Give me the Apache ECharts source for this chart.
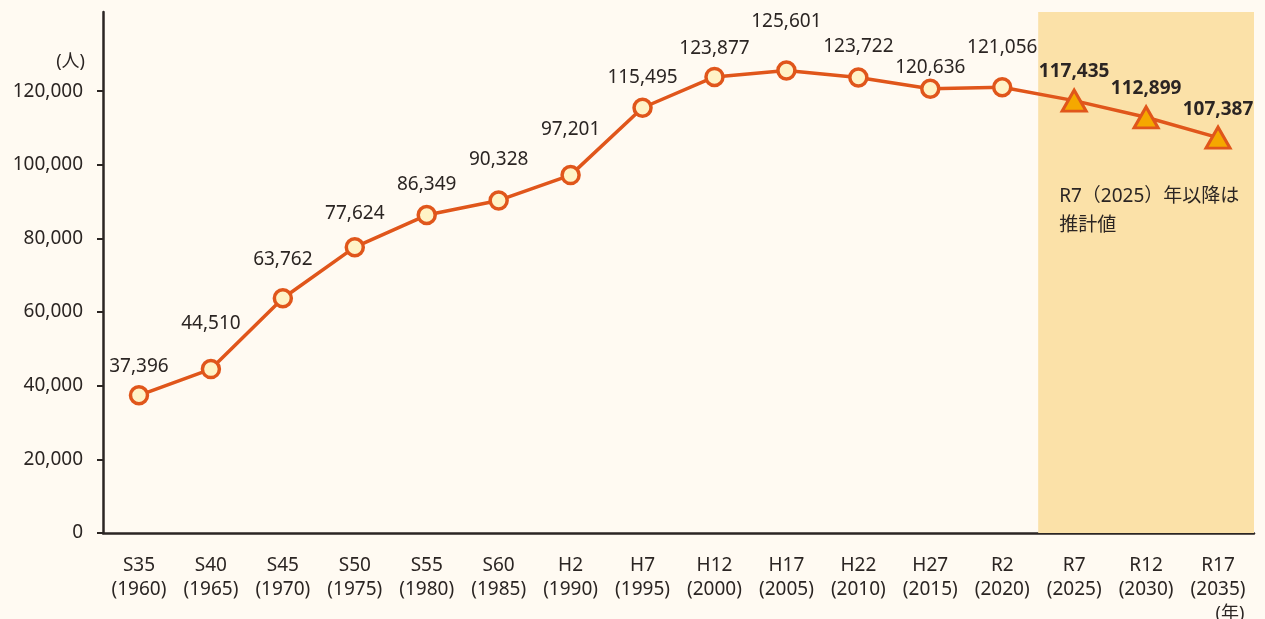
<html>
<head>
    <script src="https://cdn.jsdelivr.net/npm/echarts@6.0.0/dist/echarts.min.js"></script>
    <style>
        body { margin: 0; background: #fffaf2; }
        #chart { width: 1265px; height: 619px; }
    </style>
</head>
<body>
    <div id="chart"></div>
    <script>
        // 和暦と西暦
        const eras = ['S35', 'S40', 'S45', 'S50', 'S55', 'S60', 'H2', 'H7', 'H12', 'H17', 'H22', 'H27', 'R2', 'R7', 'R12', 'R17'];
        const years = [1960, 1965, 1970, 1975, 1980, 1985, 1990, 1995, 2000, 2005, 2010, 2015, 2020, 2025, 2030, 2035];
        // 人口（人）
        const population = [37396, 44510, 63762, 77624, 86349, 90328, 97201, 115495, 123877, 125601, 123722, 120636, 121056, 117435, 112899, 107387];
        const firstEstimate = 13; // R7以降は推計値
        const yTicks = [0, 20000, 40000, 60000, 80000, 100000, 120000];

        const orange = '#e0561b';
        const text = '#2b2523';
        const font = "'Noto Sans', 'Noto Sans CJK JP', sans-serif";

        // label distance above each point (px), to avoid overlaps like the original
        const labelLift = [9, 26, 19, 14, 11, 21, 26, 10, 9, 29, 11, 1, 20, 8, 7, 7];

        const seriesData = population.map((v, i) => {
            const est = i >= firstEstimate;
            return {
                value: v,
                symbol: est ? 'triangle' : 'circle',
                symbolSize: est ? [24, 21] : 17,
                itemStyle: est ? { color: '#f5a800', borderColor: orange, borderWidth: 3 } : undefined,
                label: { distance: labelLift[i], fontWeight: est ? 'bold' : 'normal' }
            };
        });

        const chart = echarts.init(document.getElementById('chart'));
        chart.setOption({
            backgroundColor: '#fffaf2',
            animation: false,
            grid: { left: 103, right: 11, top: 12, bottom: 86, outerBoundsMode: 'none' },
            xAxis: [{
                type: 'category',
                data: eras,
                boundaryGap: true,
                axisLine: { lineStyle: { color: text, width: 2.5 } },
                axisTick: { length: 7, lineStyle: { color: text, width: 2 } },
                axisLabel: {
                    color: text, fontSize: 19, fontFamily: font, margin: 21, lineHeight: 24,
                    formatter: (v, i) => v + '\n(' + years[i] + ')'
                },
                name: '(年)',
                nameLocation: 'end',
                nameGap: -24,
                nameTextStyle: { color: text, fontSize: 18, fontFamily: font, align: 'center', verticalAlign: 'top', padding: [72, 0, 0, 0] }
            }, {
                type: 'value', min: 0, max: eras.length, show: false
            }],
            yAxis: {
                type: 'value',
                min: 0,
                max: 141500,
                interval: 20000,
                splitLine: { show: false },
                axisLine: { show: true, lineStyle: { color: text, width: 2.5 } },
                axisTick: { show: true, length: 6, customValues: yTicks, lineStyle: { color: text, width: 2 } },
                axisLabel: {
                    color: text, fontSize: 19, fontFamily: font, margin: 20, customValues: yTicks,
                    formatter: v => v.toLocaleString('en-US')
                },
                name: '(人)',
                nameLocation: 'end',
                nameGap: -50,
                nameTextStyle: { color: text, fontSize: 18, fontFamily: font, align: 'right', verticalAlign: 'middle', padding: [0, 18, 0, 0] }
            },
            series: [{
                type: 'line',
                xAxisIndex: 1,
                data: [],
                silent: true,
                markArea: {
                    silent: true,
                    itemStyle: { color: '#fbe1a8' },
                    label: {
                        show: true,
                        position: [21, 170],
                        color: text, fontSize: 19, fontFamily: font, lineHeight: 29, align: 'left'
                    },
                    data: [[{ xAxis: firstEstimate, name: 'R7（2025）年以降は\n推計値' }, { xAxis: eras.length }]]
                }
            }, {
                type: 'line',
                data: seriesData,
                lineStyle: { color: orange, width: 3.5 },
                itemStyle: { color: '#fff3c6', borderColor: orange, borderWidth: 3.5 },
                showAllSymbol: true,
                z: 5,
                label: {
                    show: true,
                    position: 'top',
                    color: text,
                    fontSize: 19,
                    fontFamily: font,
                    formatter: p => p.value.toLocaleString('en-US')
                }
            }]
        });
    </script>
</body>
</html>
